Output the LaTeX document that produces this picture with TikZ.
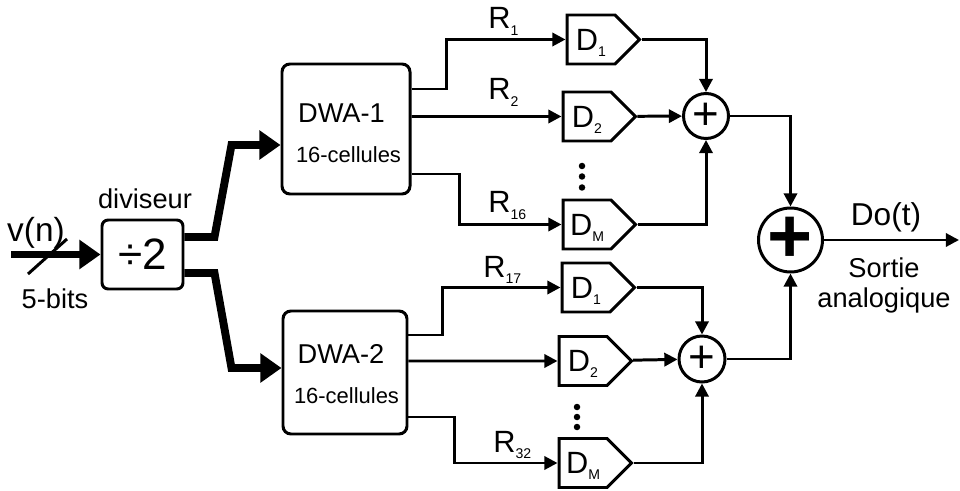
\documentclass[tikz,border=0pt]{standalone}
\usepackage{fontspec}
\setmainfont{Liberation Sans}
\usetikzlibrary{arrows.meta,shapes.symbols,calc}
\newcommand\fsz[1]{\fontsize{#1}{#1}\selectfont}
\newcommand\idx[1]{\raisebox{-3.5pt}[0pt][0pt]{\fsz{8}#1}}

\begin{document}
\begin{tikzpicture}[line join=miter,
    wire/.style={line width=1.7pt},
    sig/.style={line width=1.7pt, -{Triangle[length=7.5pt,width=7.5pt]}},
    bus/.style={line width=4.5pt, -{Triangle[length=12pt,width=16pt]}},
    block/.style={draw, line width=1.7pt, rounded corners=4.5pt, inner sep=0pt},
    dac/.style={draw, line width=1.7pt, signal, signal to=east, signal pointer angle=90,
      minimum width=1.45cm, minimum height=0.98cm, inner sep=0pt, font=\fsz{17.5}},
    sum/.style={draw, circle, line width=1.7pt, inner sep=0pt, minimum size=0.9cm, font=\fsz{26}},
    lbl/.style={inner sep=0pt, anchor=base, font=\fsz{15.5}},
    rlab/.style={inner sep=0pt, anchor=base west, font=\fsz{17.5}}]
  \useasboundingbox (0,0) rectangle (19.2,-9.82);
  % entree et diviseur
  \node[block, rounded corners=3.5pt, minimum width=1.62cm, minimum height=1.38cm,
    font=\fsz{25}] (div) at (2.85,-5.09) {÷2};
  \node[lbl] at (2.9,-4.18) {diviseur};
  \node[lbl, font=\fsz{19}] at (0.72,-4.84) {v(n)};
  \node[lbl] at (1.1,-6.16) {5-bits};
  \coordinate (vin) at (0.22,-5.09);
  \draw[bus] (vin) -- (div);
  \draw[wire] (0.56,-5.48) -- (1.34,-4.78);
  % DWA-1 et DWA-2
  \node[block, minimum width=2.56cm, minimum height=2.6cm] (dwa1) at (6.92,-2.58) {};
  \node[lbl] at (6.83,-2.46) {DWA-1};
  \node[lbl, font=\fsz{12.5}] at (6.97,-3.26) {16-cellules};
  \node[block, minimum width=2.48cm, minimum height=2.46cm] (dwa2) at (6.9,-7.45) {};
  \node[lbl] at (6.82,-7.26) {DWA-2};
  \node[lbl, font=\fsz{12.5}] at (6.93,-8.06) {16-cellules};
  \coordinate (in1) at ([yshift=-0.32cm]dwa1.west);
  \coordinate (in2) at ([yshift=0.09cm]dwa2.west);
  \draw[bus] ([yshift=0.35cm]div.east) -- ++(0.6,0) -- ($(in1)+(-0.98,0)$) -- (in1);
  \draw[bus] ([yshift=-0.37cm]div.east) -- ++(0.6,0) -- ($(in2)+(-1.0,0)$) -- (in2);
  % cellules D
  \node[dac] (d1a) at (11.82,-0.79) {D\idx{1}};
  \node[dac] (d2a) at (11.74,-2.33) {D\idx{2}};
  \node[dac] (dma) at (11.74,-4.49) {D\idx{M}};
  \node[dac] (d1b) at (11.72,-5.75) {D\idx{1}};
  \node[dac] (d2b) at (11.66,-7.22) {D\idx{2}};
  \node[dac] (dmb) at (11.66,-9.26) {D\idx{M}};
  \foreach \y in {-3.32,-3.53,-3.75} \fill (11.64,\y) circle (0.065);
  \foreach \y in {-8.14,-8.34,-8.54} \fill (11.54,\y) circle (0.065);
  % sorties DWA
  \draw[sig] ([yshift=0.8cm]dwa1.east) -- ++(0.7,0) |- (d1a);
  \draw[sig] (d2a.west -| dwa1.east) -- (d2a);
  \draw[sig] ([yshift=-0.9cm]dwa1.east) -- ++(0.96,0) |- (dma);
  \draw[sig] ([yshift=0.75cm]dwa2.east) -- ++(0.68,0) |- (d1b);
  \draw[sig] (d2b.west -| dwa2.east) -- (d2b);
  \draw[sig] ([yshift=-0.89cm]dwa2.east) -- ++(0.92,0) |- (dmb);
  \node[rlab] at (9.76,-0.58) {R\idx{1}};
  \node[rlab] at (9.76,-2.0) {R\idx{2}};
  \node[rlab] at (9.76,-4.26) {R\idx{16}};
  \node[rlab] at (9.66,-5.54) {R\idx{17}};
  \node[rlab] at (9.86,-9.04) {R\idx{32}};
  % sommateurs
  \node[sum] (s1) at (14.12,-2.32) {+};
  \node[sum, minimum size=0.92cm] (s2) at (14.04,-7.18) {+};
  \node[sum, minimum size=1.28cm, font=\fsz{44}\bfseries] (sout) at (15.81,-4.8) {+};
  \draw[sig] (d1a) -| (s1);
  \draw[sig] (d2a) -- (s1);
  \draw[sig] (dma) -| (s1);
  \draw[sig] (d1b) -| (s2);
  \draw[sig] (d2b) -- (s2);
  \draw[sig] (dmb) -| (s2);
  \draw[sig] (s1) -| (sout);
  \draw[sig] (s2) -| (sout);
  % sortie
  \coordinate (vout) at (19.18,-4.8);
  \draw[sig] (sout) -- (vout);
  \node[lbl, font=\fsz{18}] at (17.72,-4.5) {Do(t)};
  \node[lbl] at (17.68,-5.54) {Sortie};
  \node[lbl] at (17.68,-6.14) {analogique};
\end{tikzpicture}
\end{document}
